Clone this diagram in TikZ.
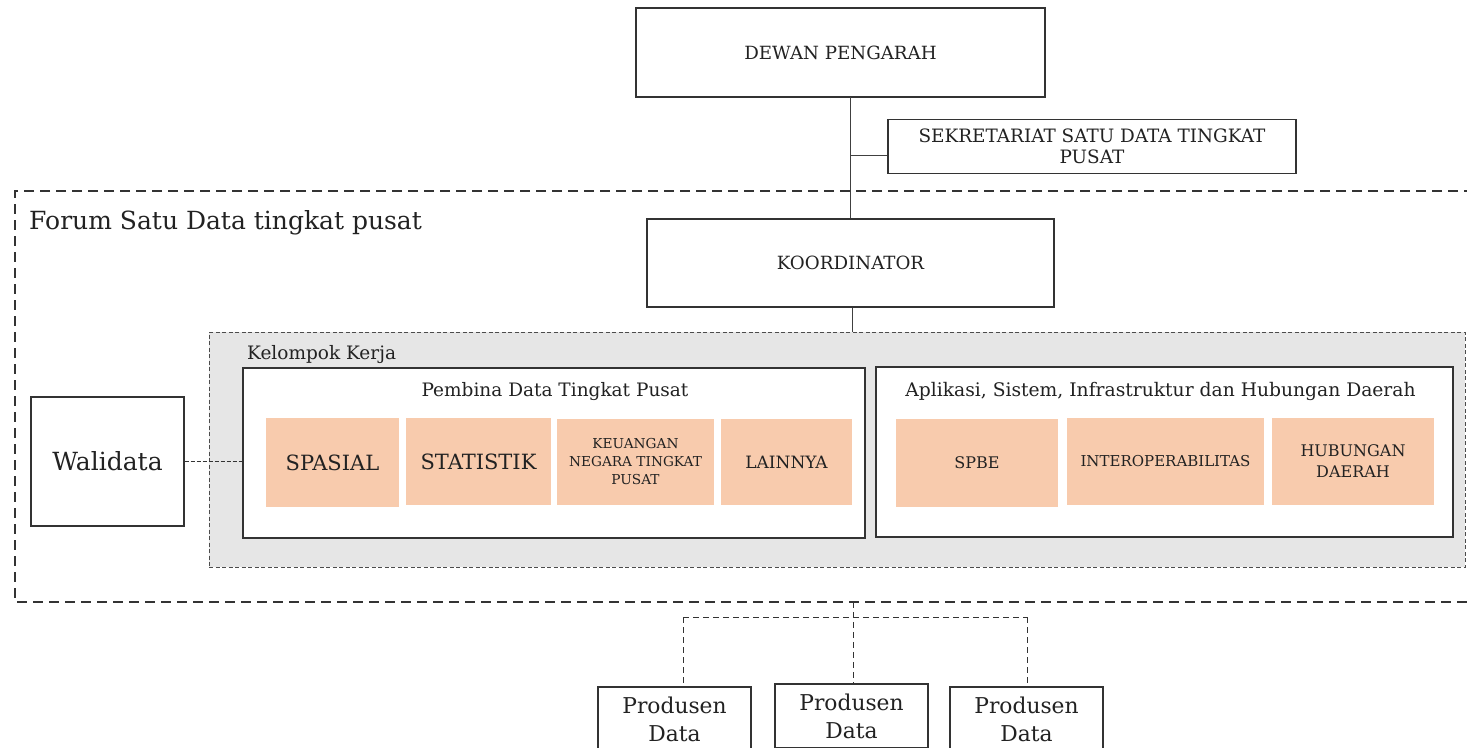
\documentclass[tikz,border=0pt]{standalone}
\usepackage{fontspec}
\setmainfont{DejaVu Serif}
\definecolor{orangebox}{HTML}{F8CBAD}
\definecolor{graybox}{HTML}{E6E6E6}
\definecolor{ink}{HTML}{222222}
\newcommand{\fsz}[2]{\fontsize{#1}{#2}\selectfont}
\begin{document}
\begin{tikzpicture}[x=1pt,y=-1pt,
  box/.style={draw=black!80, line width=1.1pt, fill=white, inner sep=0pt, align=center, text=ink},
  obox/.style={fill=orangebox, inner sep=0pt, align=center, text=ink},
  conn/.style={draw=black!75, line width=1pt},
  dconn/.style={draw=black!80, line width=0.9pt, dash pattern=on 6pt off 4pt},
  lbl/.style={inner sep=0pt, text=ink}]
\useasboundingbox (0,0) rectangle (1467,747);
\begin{scope}
\clip (0,0) rectangle (1467,747);
% outer dashed forum frame
\draw[line width=1.2pt, dash pattern=on 10pt off 6pt, black!80] (1490,191) -- (15,191) -- (15,602) -- (1490,602);
\node[lbl, anchor=west, font=\fsz{25}{29}] (forum) at (29,223) {Forum Satu Data tingkat pusat};

% top boxes
\node[box, minimum width=409, minimum height=89, font=\fsz{18.2}{21}] (dewan) at (840.5,52.5) {DEWAN PENGARAH};
\node[box, minimum width=408, minimum height=54, font=\fsz{18.4}{21}] (sek) at (1092,146.5) {SEKRETARIAT SATU DATA TINGKAT\\PUSAT};
\node[box, minimum width=407, minimum height=88, font=\fsz{18.2}{21}] (koord) at (850.5,263) {KOORDINATOR};

% kelompok kerja gray container
\node[draw=black!70, fill=graybox, line width=0.8pt, dash pattern=on 4pt off 2.5pt, minimum width=1256, minimum height=235, inner sep=0pt] (kk) at (837,449.5) {};
\node[lbl, anchor=west, font=\fsz{18.5}{22}] (kklbl) at (247,355) {Kelompok Kerja};

% group boxes
\node[box, minimum width=622, minimum height=170] (pemb) at (554,453) {};
\node[lbl, font=\fsz{18.5}{22}] (pembt) at (555,392) {Pembina Data Tingkat Pusat};
\node[box, minimum width=577, minimum height=170] (apl) at (1164.5,452) {};
\node[lbl, font=\fsz{18.7}{22}] (aplt) at (1160.5,391) {Aplikasi, Sistem, Infrastruktur dan Hubungan Daerah};

% orange items
\node[obox, minimum width=133, minimum height=89, font=\fsz{21}{25}] (spasial) at (332.5,462.5) {SPASIAL};
\node[obox, minimum width=145, minimum height=87, font=\fsz{21}{25}] (statistik) at (478.5,461.5) {STATISTIK};
\node[obox, minimum width=157, minimum height=86, font=\fsz{13.7}{18}] (keu) at (635.5,462) {KEUANGAN\\NEGARA TINGKAT\\PUSAT};
\node[obox, minimum width=131, minimum height=86, font=\fsz{17}{21}] (lain) at (786.5,462) {LAINNYA};
\node[obox, minimum width=162, minimum height=88, font=\fsz{16}{20}] (spbe) at (977,463) {SPBE};
\node[obox, minimum width=197, minimum height=87, font=\fsz{15}{19}] (inter) at (1165.5,461.5) {INTEROPERABILITAS};
\node[obox, minimum width=162, minimum height=87, font=\fsz{16}{21}] (hub) at (1353,461.5) {HUBUNGAN\\DAERAH};

% walidata
\node[box, minimum width=153, minimum height=129, font=\fsz{25}{29}] (wali) at (107.5,461.5) {Walidata};

% produsen
\node[box, minimum width=153, minimum height=64, font=\fsz{21.8}{28}] (p1) at (674.5,719) {Produsen\\Data};
\node[box, minimum width=153, minimum height=64, font=\fsz{21.8}{28}] (p2) at (851.5,716) {Produsen\\Data};
\node[box, minimum width=153, minimum height=64, font=\fsz{21.8}{28}] (p3) at (1026.5,719) {Produsen\\Data};

% connectors
\coordinate (dtop) at (850,97);
\draw[conn] (dtop) -- (dtop |- koord.north);
\coordinate (sekj) at (850,155);
\draw[conn] (sekj) -- (sekj -| sek.west);
\draw[conn] ([xshift=1.5pt]koord.south) -- ([xshift=1.5pt]koord.south |- kk.north);
\draw[dconn, dash pattern=on 4pt off 2pt] (wali.east) -- (wali.east -| pemb.west);
\coordinate (fbot) at (853,602);
\coordinate (j1) at (683,617);
\coordinate (j3) at (1027,617);
\draw[dconn] (fbot) -- (fbot |- p2.north);
\draw[dconn] (j1) -- (j3);
\draw[dconn] (j1) -- (j1 |- p1.north);
\draw[dconn] (j3) -- (j3 |- p3.north);
\end{scope}
\end{tikzpicture}
\end{document}
